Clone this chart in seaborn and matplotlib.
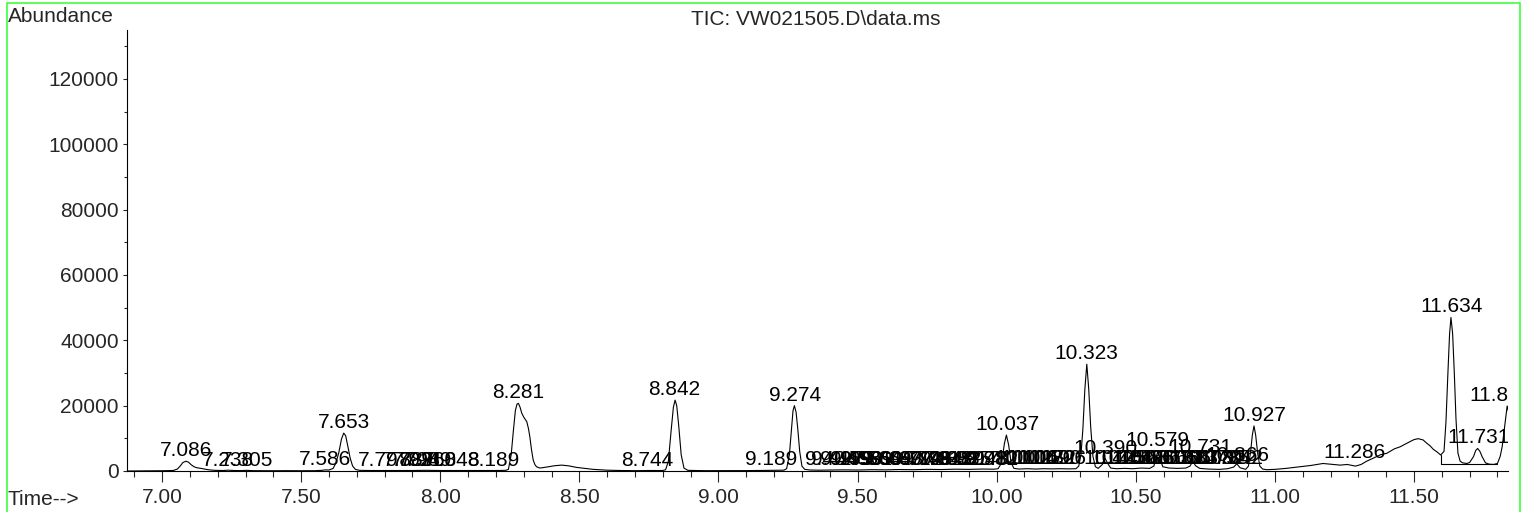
import matplotlib
matplotlib.use("Agg")
import matplotlib.pyplot as plt
import matplotlib.patches as mpatches
from matplotlib.ticker import MultipleLocator, FixedLocator
import seaborn as sns
import pandas as pd

# ---------------- data ----------------
trace_time = [
    6.874, 6.95, 7.00, 7.04, 7.055, 7.065, 7.075, 7.086, 7.095, 7.105, 7.115, 7.125, 7.14, 7.155, 7.17, 7.19,
    7.22, 7.238, 7.26, 7.28, 7.305, 7.33, 7.40, 7.45, 7.50, 7.55, 7.575, 7.586, 7.60, 7.615, 7.625, 7.635,
    7.645, 7.653, 7.66, 7.668, 7.676, 7.685, 7.695, 7.71, 7.75, 7.80, 7.85, 7.90, 7.95, 8.00, 8.05, 8.10,
    8.15, 8.20, 8.235, 8.245, 8.255, 8.263, 8.27, 8.276, 8.281, 8.287, 8.293, 8.30, 8.311, 8.317, 8.322,
    8.328, 8.334, 8.34, 8.346, 8.358, 8.382, 8.41, 8.436, 8.46, 8.49, 8.52, 8.55, 8.60, 8.65, 8.70, 8.75,
    8.80, 8.81, 8.82, 8.83, 8.838, 8.844, 8.85, 8.857, 8.866, 8.876, 8.89, 8.95, 9.00, 9.05, 9.10, 9.15,
    9.189, 9.235, 9.245, 9.255, 9.263, 9.268, 9.273, 9.279, 9.285, 9.292, 9.30, 9.31, 9.33, 9.36, 9.40,
    9.45, 9.50, 9.55, 9.60, 9.65, 9.70, 9.75, 9.80, 9.85, 9.90, 9.95, 9.99, 10.005, 10.018, 10.028, 10.035,
    10.043, 10.052, 10.062, 10.08, 10.11, 10.14, 10.17, 10.20, 10.23, 10.26, 10.285, 10.295, 10.303, 10.31,
    10.317, 10.324, 10.331, 10.338, 10.346, 10.355, 10.365, 10.38, 10.39, 10.40, 10.41, 10.43, 10.46, 10.49,
    10.52, 10.55, 10.565, 10.572, 10.579, 10.587, 10.597, 10.62, 10.65, 10.68, 10.695, 10.705, 10.715, 10.73,
    10.76, 10.80, 10.83, 10.852, 10.863, 10.875, 10.895, 10.905, 10.913, 10.919, 10.925, 10.931, 10.938,
    10.946, 10.956, 10.97, 11.00, 11.04, 11.09, 11.13, 11.173, 11.21, 11.235, 11.26, 11.29, 11.31, 11.33,
    11.353, 11.38, 11.402, 11.43, 11.45, 11.47, 11.486, 11.50, 11.515, 11.533, 11.546, 11.558, 11.57, 11.582,
    11.596, 11.608, 11.615, 11.622, 11.628, 11.633, 11.639, 11.645, 11.651, 11.658, 11.666, 11.675, 11.69,
    11.70, 11.714, 11.722, 11.729, 11.737, 11.745, 11.757, 11.77, 11.786, 11.800, 11.81, 11.817, 11.823,
    11.829, 11.835, 11.842,
]
trace_abund = [
    0, 50, 80, 150, 600, 1500, 2600, 3000, 2700, 1900, 1300, 1000, 800, 550, 350, 200,
    150, 250, 150, 120, 200, 100, 80, 100, 80, 100, 200, 350, 300, 800, 2500, 5500,
    9800, 11600, 10800, 7500, 4000, 1500, 500, 200, 150, 150, 180, 150, 200, 150, 150, 120,
    150, 150, 200, 500, 5000, 12500, 18500, 20500, 20700, 19500, 17700, 16500, 15100, 13000, 10500,
    6500, 3400, 2000, 1300, 900, 1200, 1600, 1800, 1600, 1100, 800, 500, 250, 150, 100, 150,
    150, 400, 3000, 12500, 19500, 21700, 20000, 14000, 5000, 900, 200, 100, 100, 100, 120, 150,
    200, 250, 700, 5000, 13500, 18500, 20000, 18000, 13000, 6000, 1500, 500, 300, 250, 300,
    350, 300, 400, 350, 450, 400, 500, 450, 550, 500, 600, 550, 700, 2500, 8500, 11000,
    8000, 2500, 800, 600, 700, 600, 700, 650, 700, 650, 700, 1500, 5000, 13000,
    25000, 32700, 25000, 13500, 4500, 1300, 800, 2000, 3800, 2200, 900, 700, 800, 700,
    900, 800, 1500, 3800, 6000, 4000, 1300, 900, 800, 900, 1500, 3000, 1600, 800,
    600, 500, 700, 1200, 2200, 1000, 500, 1500, 6000, 11000, 13800, 11000, 5500,
    1500, 600, 400, 500, 800, 1300, 1700, 2300, 2000, 1800, 2000, 1500, 2000, 3000,
    3900, 5000, 5400, 6800, 7400, 8300, 9000, 9600, 9900, 9500, 8500, 7700, 6600, 5900,
    4900, 6000, 15000, 30000, 42000, 47000, 42000, 30000, 16000, 5500, 3000, 2500, 2300,
    2600, 4400, 6300, 6900, 6000, 4400, 2500, 2100, 2000, 2300, 4500, 7400, 11500,
    15600, 19900, 17500,
]

# integration baseline drawn under the 11.634 / 11.731 peaks
baseline_time = [11.596, 11.596, 11.800]
baseline_abund = [4900, 2100, 2100]

# peak labels (retention time, abundance at which the label sits)
label_rt = [
    7.086, 7.238, 7.305, 7.586, 7.653, 7.797, 7.887, 7.921, 7.949, 7.968, 8.048, 8.189, 8.281, 8.744, 8.842,
    9.189, 9.274,
    9.404, 9.427, 9.459, 9.496, 9.531, 9.564, 9.609, 9.643, 9.677, 9.712, 9.748, 9.784, 9.818, 9.852,
    9.885, 9.917, 9.948, 9.982,
    10.037, 10.106, 10.128, 10.149, 10.172, 10.190, 10.206, 10.323, 10.390,
    10.425, 10.451, 10.478, 10.503, 10.526, 10.551, 10.579, 10.606, 10.631, 10.656, 10.683, 10.731,
    10.770, 10.795, 10.822, 10.842, 10.866, 10.927, 11.286, 11.634, 11.731, 11.813,
]
label_abund = [
    3000, 150, 150, 300, 11600, 150, 150, 150, 150, 150, 150, 150, 20700, 150, 21700,
    200, 20000,
    300, 300, 300, 300, 300, 300, 300, 300, 300, 300, 300, 300, 300, 300,
    300, 300, 300, 300,
    11000, 600, 600, 600, 600, 600, 600, 32700, 3800,
    700, 700, 700, 700, 700, 700, 6000, 700, 700, 700, 700, 4000,
    700, 700, 700, 700, 1500, 13800, 2400, 47000, 6900, 20000,
]

x_major = [7.00, 7.50, 8.00, 8.50, 9.00, 9.50, 10.00, 10.50, 11.00, 11.50]
y_major = [0, 20000, 40000, 60000, 80000, 100000, 120000]

title_text = r"TIC: VW021505.D\data.ms"
ylabel_text = "Abundance"
xlabel_text = "Time-->"

# ---------------- drawing ----------------
sns.set_style("ticks")
plt.rcParams["font.family"] = ["Liberation Sans", "DejaVu Sans"]
plt.rcParams["font.size"] = 15

W, H = 1526, 512
fig = plt.figure(figsize=(W / 100, H / 100), dpi=100)
fig.patch.set_facecolor("white")
ax = fig.add_axes([127 / W, (H - 471) / H, (1508 - 127) / W, (471 - 30) / H])
ax.set_facecolor("white")

df = pd.DataFrame({"time": trace_time, "abund": trace_abund})
sns.lineplot(data=df, x="time", y="abund", color="black", lw=0.8, estimator=None, ax=ax)
ax.plot(baseline_time, baseline_abund, color="black", lw=0.8)

ax.set_xlim(6.874, 11.838)
ax.set_ylim(0, 135000)

for rt, ab in zip(label_rt, label_abund):
    ax.annotate(f"{rt:.3f}", xy=(rt, ab), xytext=(0, 3.6), textcoords="offset points",
                ha="center", va="baseline", fontsize=15, color="black",
                annotation_clip=False, clip_on=True)

ax.xaxis.set_major_locator(FixedLocator(x_major))
ax.xaxis.set_minor_locator(MultipleLocator(0.1))
ax.yaxis.set_major_locator(FixedLocator(y_major))
ax.yaxis.set_minor_locator(MultipleLocator(10000))
ax.set_xticklabels([f"{v:.2f}" for v in x_major])
ax.set_yticklabels([f"{v:d}" for v in y_major])
ax.tick_params(axis="x", which="major", length=8, width=0.8, pad=4, labelsize=15, direction="out")
ax.tick_params(axis="x", which="minor", length=4.3, width=0.8, direction="out")
ax.tick_params(axis="y", which="major", length=3, width=0.8, pad=3, labelsize=15, direction="out")
ax.tick_params(axis="y", which="minor", length=2, width=0.8, direction="out")
for s in ["top", "right"]:
    ax.spines[s].set_visible(False)
for s in ["left", "bottom"]:
    ax.spines[s].set_linewidth(0.8)
    ax.spines[s].set_color("black")
ax.set_xlabel("")
ax.set_ylabel("")

fig.text(8 / W, 1 - 22 / H, ylabel_text, ha="left", va="baseline", fontsize=15)
fig.text(816 / W, 1 - 25 / H, title_text, ha="center", va="baseline", fontsize=15)
fig.text(8 / W, 1 - 505 / H, xlabel_text, ha="left", va="baseline", fontsize=15)

border = mpatches.Rectangle((7 / W, -0.05), (1520 - 7) / W, 1.05 - 2.5 / H, transform=fig.transFigure,
                            fill=False, edgecolor="#2bff2b", lw=1.1)
fig.patches.append(border)

fig.savefig("out.png", dpi=100, facecolor="white")
